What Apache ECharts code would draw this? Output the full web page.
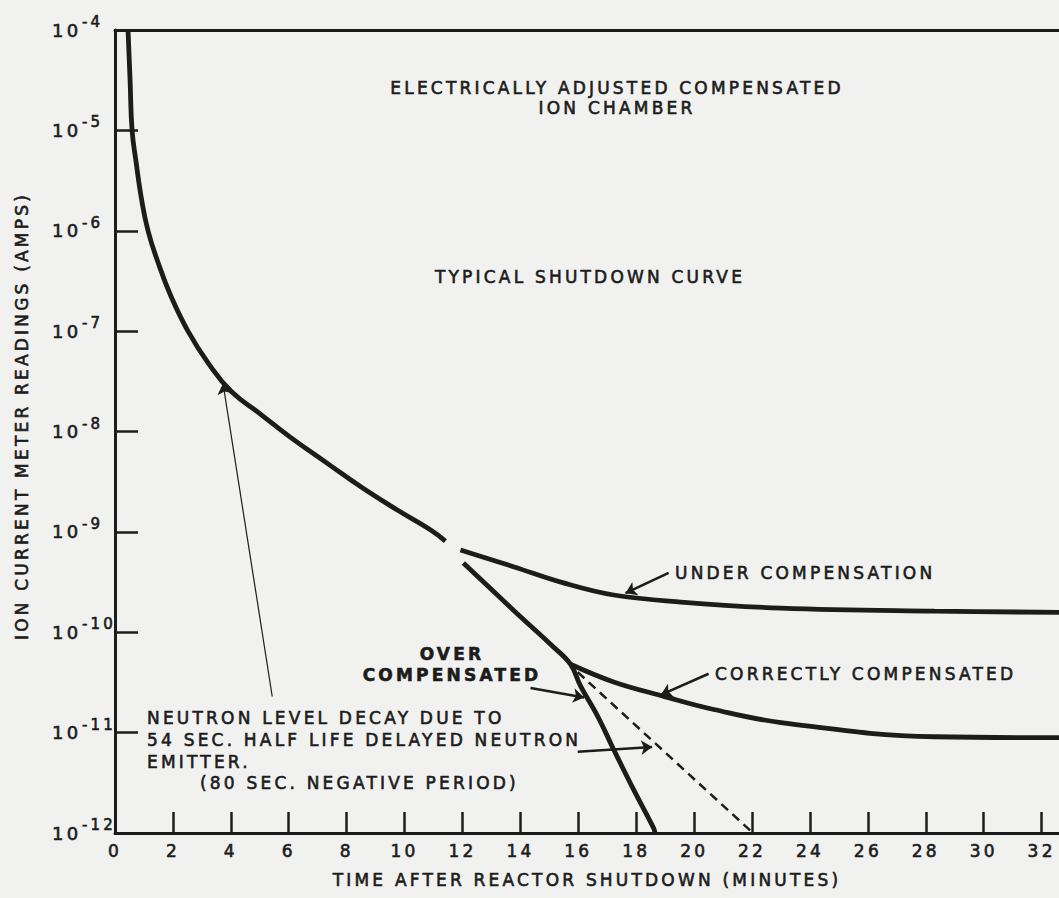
<!DOCTYPE html>
<html><head><meta charset="utf-8">
<script src="https://cdn.jsdelivr.net/npm/echarts@6/dist/echarts.min.js"></script>
<style>
html,body{margin:0;padding:0;background:#f1f1ef;}
#main{width:1059px;height:898px;}
#main text{letter-spacing:3.2px;}
</style></head><body><div id="main"></div>
<script>
// ---- tick values ----
const xTicks = [0, 2, 4, 6, 8, 10, 12, 14, 16, 18, 20, 22, 24, 26, 28, 30, 32];
const yTicks = [1e-12, 1e-11, 1e-10, 1e-9, 1e-8, 1e-7, 1e-6, 1e-5, 1e-4];

// ---- typical shutdown curve (before branching) ----
const mainT = [0.45, 0.52, 0.59, 0.73, 0.90, 1.14, 1.49, 1.94, 2.52, 3.22, 4.02, 5.01, 6.05, 7.43, 8.58, 9.75, 10.89, 11.41];
const mainV = [1e-4, 3.2e-5, 1.0e-5, 4.8e-6, 2.2e-6, 1.0e-6, 4.8e-7, 2.2e-7, 1.0e-7, 4.8e-8, 2.5e-8, 1.5e-8, 8.8e-9, 4.6e-9, 2.7e-9, 1.65e-9, 1.05e-9, 8.1e-10];

// ---- under compensation ----
const underT = [11.93, 13.76, 15.49, 17.22, 19.54, 23.0, 28.3, 32.6];
const underV = [6.6e-10, 4.5e-10, 3.1e-10, 2.35e-10, 2.0e-10, 1.74e-10, 1.62e-10, 1.58e-10];

// ---- over compensated ----
const overT = [12.03, 13.76, 15.15, 15.73, 16.08, 16.67, 17.22, 17.91, 18.6, 18.65];
const overV = [4.9e-10, 1.66e-10, 7.1e-11, 4.8e-11, 2.9e-11, 1.45e-11, 6.8e-12, 2.7e-12, 1.12e-12, 1e-12];

// ---- correctly compensated ----
const correctT = [15.73, 17.22, 18.95, 20.68, 23.0, 28.3, 32.6];
const correctV = [4.8e-11, 3.2e-11, 2.3e-11, 1.7e-11, 1.26e-11, 9.1e-12, 8.9e-12];

// ---- neutron level decay (dashed) ----
const decayT = [15.98, 22.03];
const decayV = [4.0e-11, 1e-12];

// ---- annotation arrows: [fromT, fromV, toT, toV] ----
const arrowUnder = [19.12, 3.9e-10, 17.63, 2.45e-10];
const arrowCorrect = [20.5, 3.86e-11, 18.85, 2.38e-11];
const arrowOver = [14.35, 2.79e-11, 16.2, 2.24e-11];
const arrowDecay = [15.98, 6.46e-12, 18.55, 7.2e-12];
const arrowTypical = [5.43, 2.29e-11, 3.73, 3.02e-8];

const zip = (a, b) => a.map((v, i) => [v, b[i]]);
const INK = '#1c1c1c';
const FONT = "17px 'DejaVu Sans'";
const TXT = {fill: INK, stroke: INK, lineWidth: 0.6};

function arrowLine(a, w, size) {
  return [{coord: [a[0], a[1]], lineStyle: {width: w, color: INK, type: 'solid'}, symbolSize: size},
          {coord: [a[2], a[3]]}];
}

const chart = echarts.init(document.getElementById('main'), null, {renderer: 'svg'});
chart.setOption({
  animation: false,
  backgroundColor: '#f1f1ef',
  grid: {left: 115, right: 0, top: 30, bottom: 65, containLabel: false, outerBoundsMode: 'none'},
  xAxis: [{
    type: 'value', min: 0, max: 32.6, interval: 2,
    position: 'bottom',
    name: 'TIME AFTER REACTOR SHUTDOWN (MINUTES)',
    nameLocation: 'middle', nameGap: 38,
    nameTextStyle: {color: INK, fontSize: 17, fontFamily: 'DejaVu Sans', textBorderColor: INK, textBorderWidth: 0.6},
    axisLine: {lineStyle: {color: INK, width: 3}},
    axisTick: {inside: true, length: 21, lineStyle: {color: INK, width: 2.5}, customValues: xTicks},
    axisLabel: {color: INK, fontSize: 17, fontFamily: 'DejaVu Sans', margin: 9, customValues: xTicks,
      textBorderColor: INK, textBorderWidth: 0.6,
      formatter: v => String(v)},
    splitLine: {show: false}
  }, {
    type: 'value', min: 0, max: 32.6, position: 'top',
    axisLine: {lineStyle: {color: INK, width: 3}},
    axisTick: {show: false}, axisLabel: {show: false}, splitLine: {show: false}
  }],
  yAxis: {
    type: 'log', logBase: 10, min: 1e-12, max: 1e-4, splitNumber: 8,
    axisLine: {lineStyle: {color: INK, width: 3}},
    axisTick: {inside: true, length: 23, lineStyle: {color: INK, width: 2.5}},
    axisLabel: {
      align: 'left', margin: 63, color: INK,
      formatter: v => '{b|10}{s|-' + Math.round(-Math.log10(v)) + '}',
      rich: {
        b: {fontSize: 18, fontFamily: 'DejaVu Sans', color: INK, textBorderColor: INK, textBorderWidth: 0.6},
        s: {fontSize: 15, fontFamily: 'DejaVu Sans', color: INK, textBorderColor: INK, textBorderWidth: 0.6,
            padding: [0, 0, 16, 7]}
      }
    },
    splitLine: {show: false}
  },
  series: [
    {type: 'line', name: 'Typical', data: zip(mainT, mainV), showSymbol: false, smooth: 0.45,
      lineStyle: {color: INK, width: 4.8}, silent: true},
    {type: 'line', name: 'Under', data: zip(underT, underV), showSymbol: false, smooth: 0.4,
      lineStyle: {color: INK, width: 4.8}, silent: true},
    {type: 'line', name: 'Over', data: zip(overT, overV), showSymbol: false, smooth: 0.4,
      lineStyle: {color: INK, width: 4.8}, silent: true},
    {type: 'line', name: 'Correct', data: zip(correctT, correctV), showSymbol: false, smooth: 0.4,
      lineStyle: {color: INK, width: 4.8}, silent: true},
    {type: 'line', name: 'Decay', data: zip(decayT, decayV), showSymbol: false,
      lineStyle: {color: INK, width: 2.5, type: [9, 6]}, silent: true},
    {type: 'line', name: 'Arrows', data: [], silent: true,
      markLine: {
        silent: true, symbol: ['none', 'arrow'], symbolSize: 11,
        label: {show: false}, emphasis: {disabled: true},
        data: [
          arrowLine(arrowUnder, 2.5, 11),
          arrowLine(arrowCorrect, 2.5, 11),
          arrowLine(arrowOver, 2.5, 11),
          arrowLine(arrowDecay, 2.5, 11),
          arrowLine(arrowTypical, 1.2, 10)
        ]
      }}
  ],
  graphic: [
    {type: 'text', x: 617, y: 98, silent: true,
      style: Object.assign({text: 'ELECTRICALLY ADJUSTED COMPENSATED\nION CHAMBER', font: FONT,
        textAlign: 'center', textVerticalAlign: 'middle', lineHeight: 20}, TXT)},
    {type: 'text', x: 590, y: 277, silent: true,
      style: Object.assign({text: 'TYPICAL SHUTDOWN CURVE', font: FONT, textAlign: 'center', textVerticalAlign: 'middle'}, TXT)},
    {type: 'text', x: 675, y: 573, silent: true,
      style: Object.assign({text: 'UNDER COMPENSATION', font: FONT, textAlign: 'left', textVerticalAlign: 'middle'}, TXT)},
    {type: 'text', x: 715, y: 674, silent: true,
      style: Object.assign({text: 'CORRECTLY COMPENSATED', font: FONT, textAlign: 'left', textVerticalAlign: 'middle'}, TXT)},
    {type: 'text', x: 452, y: 664, silent: true,
      style: Object.assign({text: 'OVER\nCOMPENSATED', font: "bold 17px 'DejaVu Sans'",
        textAlign: 'center', textVerticalAlign: 'middle', lineHeight: 21}, TXT)},
    {type: 'text', x: 147, y: 740, silent: true,
      style: Object.assign({text: 'NEUTRON LEVEL DECAY DUE TO\n54 SEC. HALF LIFE DELAYED NEUTRON\nEMITTER.', font: FONT,
        textAlign: 'left', textVerticalAlign: 'middle', lineHeight: 22}, TXT)},
    {type: 'text', x: 200, y: 783, silent: true,
      style: Object.assign({text: '(80 SEC. NEGATIVE PERIOD)', font: FONT, textAlign: 'left', textVerticalAlign: 'middle'}, TXT)},
    {type: 'text', x: 22, y: 416, rotation: Math.PI / 2, silent: true,
      style: Object.assign({text: 'ION CURRENT METER READINGS (AMPS)', font: FONT, textAlign: 'center', textVerticalAlign: 'middle'}, TXT)}
  ]
});
</script></body></html>
